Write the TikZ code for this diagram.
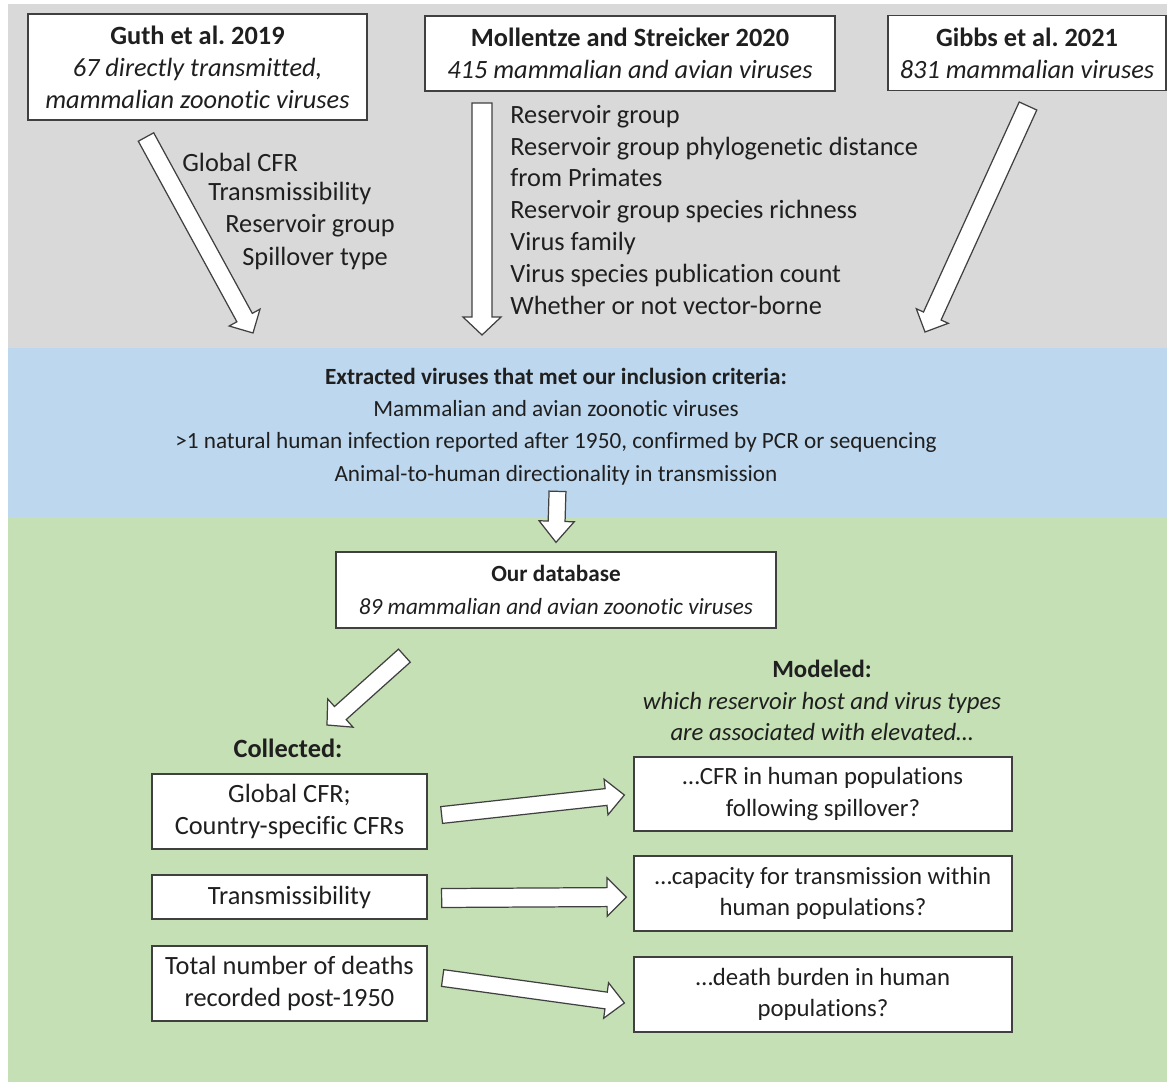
\documentclass[tikz,border=0pt]{standalone}
\usepackage{fontspec}
\setmainfont{Carlito}[Ligatures=NoCommon]
\usetikzlibrary{calc}

\definecolor{bandgray}{HTML}{D9D9D9}
\definecolor{bandblue}{HTML}{BDD7EE}
\definecolor{bandgreen}{HTML}{C5E0B4}
\definecolor{edge}{HTML}{404040}
\definecolor{ink}{HTML}{1F1F1F}

% block arrow: tail, tip, half shaft, half head, head length
\newcommand{\fatarrow}[5]{%
  \coordinate (fa-h) at ($(#2)!#5!(#1)$);
  \draw[fatline] ($(#1)!#3!90:(#2)$) -- ($(fa-h)!#3!90:(#2)$) -- ($(fa-h)!#4!90:(#2)$) -- (#2)
    -- ($(fa-h)!#4!-90:(#2)$) -- ($(fa-h)!#3!-90:(#2)$) -- ($(#1)!#3!-90:(#2)$) -- cycle;}

\begin{document}
\begin{tikzpicture}[x=0.02cm, y=-0.02cm, font=\fontsize{15}{18.2}\selectfont, text=ink,
  recbox/.style={draw=edge, line width=0.75pt, fill=white, align=center, inner sep=0pt},
  fatline/.style={draw=edge, line width=0.7pt, fill=white, line join=miter},
  lbl/.style={inner sep=0pt, anchor=west, align=left},
  midtext/.style={font=\fontsize{13.2}{18.4}\selectfont},
  modtext/.style={font=\fontsize{14.1}{17.9}\selectfont}]
  \useasboundingbox (0,0) rectangle (1167,1082);
  % background bands
  \fill[bandgray] (8,4) rectangle (1167,348);
  \fill[bandblue] (8,348) rectangle (1167,517);
  \fill[bandgreen] (8,517) rectangle (1167,1082);

  % source studies
  \node[recbox, minimum width=6.78cm, minimum height=2.12cm] (guth) at (197.5,67)
    {\textbf{Guth et al.\ 2019}\\\textit{67 directly transmitted,}\\\textit{mammalian zoonotic viruses}};
  \node[recbox, minimum width=8.2cm, minimum height=1.5cm] (moll) at (630,53.5)
    {\textbf{Mollentze and Streicker 2020}\\\textit{415 mammalian and avian viruses}};
  \node[recbox, minimum width=5.56cm, minimum height=1.5cm] (gibbs) at (1027,53)
    {\textbf{Gibbs et al.\ 2021}\\\textit{831 mammalian viruses}};

  % variables taken over
  \foreach \x/\y/\t [count=\i] in {182/162/Global CFR, 208/193/Transmissibility,
      225/226/Reservoir group, 242/258/Spillover type}
    \node[lbl] (gv\i) at (\x,\y) {\t};
  \node[lbl] (mvars) at (510,210) {Reservoir group\\Reservoir group phylogenetic distance\\from Primates\\
    Reservoir group species richness\\Virus family\\Virus species publication count\\Whether or not vector-borne};

  \coordinate (gt) at (146,137);  \coordinate (gh) at (253,333);
  \coordinate (mt) at (482,103);  \coordinate (mh) at (482,335);
  \coordinate (bt) at (1028,106); \coordinate (bh) at (925,332);
  \fatarrow{gt}{gh}{5pt}{10pt}{10pt}
  \fatarrow{mt}{mh}{5.7pt}{10.8pt}{10.2pt}
  \fatarrow{bt}{bh}{5.5pt}{10pt}{10pt}

  % inclusion criteria
  \node[midtext, align=center, inner sep=0pt] (incl) at (556,426.5)
    {\textbf{Extracted viruses that met our inclusion criteria:}\\Mammalian and avian zoonotic viruses\\
     >1 natural human infection reported after 1950, confirmed by PCR or sequencing\\
     Animal-to-human directionality in transmission};

  \node[recbox, midtext, minimum width=8.8cm, minimum height=1.52cm] (db) at (556,590)
    {\textbf{Our database}\\\textit{89 mammalian and avian zoonotic viruses}};
  \coordinate (it) at ($(db.north)+(1.5,-60)$); \coordinate (ih) at ($(db.north)+(0,-9)$);
  \fatarrow{it}{ih}{4.8pt}{10pt}{12pt}

  % collected
  \node[inner sep=0pt] (coll) at (288,748) {\textbf{Collected:}};
  \coordinate (dt) at ($(db.south west)+(69,27)$); \coordinate (dh) at (327,725);
  \fatarrow{dt}{dh}{5pt}{10.8pt}{10.2pt}

  \node[recbox, minimum width=5.5cm, minimum height=1.5cm] (c1) at (289.5,811.5) {Global CFR;\\Country-specific CFRs};
  \node[recbox, minimum width=5.5cm, minimum height=0.88cm] (c2) at (289.5,897) {Transmissibility};
  \node[recbox, minimum width=5.5cm, minimum height=1.5cm] (c3) at (289.5,983.5) {Total number of deaths\\recorded post-1950};

  % modeled
  \node[modtext, align=center, inner sep=0pt] (mod) at (822,700.5)
    {\textbf{Modeled:}\\\textit{which reservoir host and virus types}\\\textit{are associated with elevated…}};
  \node[recbox, modtext, minimum width=7.56cm, minimum height=1.48cm] (m1) at (823,794) {…CFR in human populations\\following spillover?};
  \node[recbox, modtext, minimum width=7.56cm, minimum height=1.5cm] (m2) at (823,893.5) {…capacity for transmission within\\human populations?};
  \node[recbox, modtext, minimum width=7.56cm, minimum height=1.5cm] (m3) at (823,994.5) {…death burden in human\\populations?};

  \coordinate (a1) at ($(c1.east)+(14,3.5)$);  \coordinate (b1) at ($(m1.west)+(-9,1)$);
  \coordinate (a2) at ($(c2.east)+(14,1)$);    \coordinate (b2) at ($(m2.west)+(-7,3.5)$);
  \coordinate (a3) at ($(c3.east)+(15,-5.5)$); \coordinate (b3) at ($(m3.west)+(-9,8.5)$);
  \fatarrow{a1}{b1}{4.8pt}{10.2pt}{10.5pt}
  \fatarrow{a2}{b2}{5.4pt}{11pt}{11pt}
  \fatarrow{a3}{b3}{4.8pt}{10.2pt}{10.5pt}
\end{tikzpicture}
\end{document}
